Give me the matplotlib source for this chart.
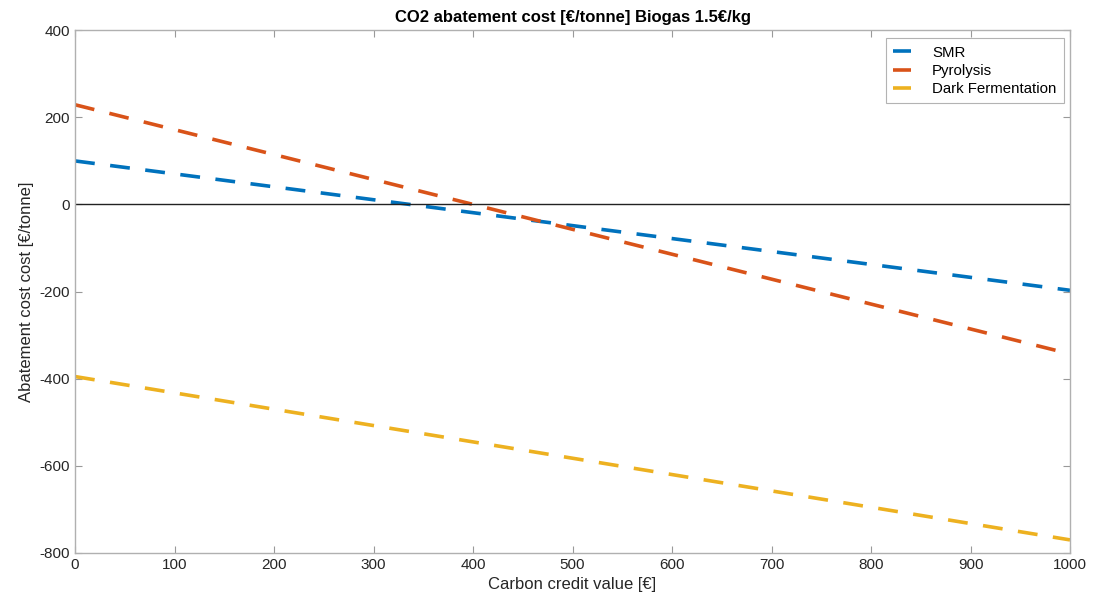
import matplotlib
matplotlib.use("Agg")
import matplotlib.pyplot as plt
import numpy as np

plt.rcParams['font.family'] = ['Liberation Sans', 'DejaVu Sans']
plt.rcParams['axes.unicode_minus'] = False

carbon_credit = [0, 1000]
smr = [100, -197]
pyrolysis = [229, -343]
dark_fermentation = [-395, -770]
series_names = ["SMR", "Pyrolysis", "Dark Fermentation"]
colors = ["#0072BD", "#D95319", "#EDB120"]

fig = plt.figure(figsize=(10.97, 6.05), dpi=100)
ax = fig.add_axes([0.0684, 0.086, 0.907, 0.864])

dash = (0, (5.5, 4.3))
for vals, name, c in zip([smr, pyrolysis, dark_fermentation], series_names, colors):
    ax.plot(carbon_credit, vals, color=c, lw=2.6, linestyle=dash, label=name)

ax.axhline(0, color='#222222', lw=1.0)

ax.set_xlim(0, 1000)
ax.set_ylim(-800, 400)
ax.set_xticks(np.arange(0, 1001, 100))
ax.set_yticks(np.arange(-800, 401, 200))

for s in ax.spines.values():
    s.set_color('#b0b0b0')
    s.set_linewidth(1.0)
ax.tick_params(direction='in', length=5, width=0.8, color='#999999',
               labelcolor='#262626', labelsize=11, top=True, right=True)

ax.set_xlabel("Carbon credit value [€]", fontsize=12, color='#262626')
ax.set_ylabel("Abatement cost cost [€/tonne]", fontsize=12, color='#262626')
ax.set_title("CO2 abatement cost [€/tonne] Biogas 1.5€/kg", fontsize=12,
             fontweight='bold', color='black', pad=6)

leg = ax.legend(loc='upper right', fontsize=10.8, handlelength=1.2,
                frameon=True, fancybox=False, edgecolor='#a0a0a0',
                borderpad=0.5, labelspacing=0.28, handletextpad=1.4,
                borderaxespad=0, bbox_to_anchor=(0.994, 0.985))
leg.get_frame().set_linewidth(0.8)
for l in leg.get_lines():
    l.set_linestyle('-')
    l.set_linewidth(2.6)
    l.set_solid_capstyle('butt')

fig.savefig("out.png", dpi=100)
